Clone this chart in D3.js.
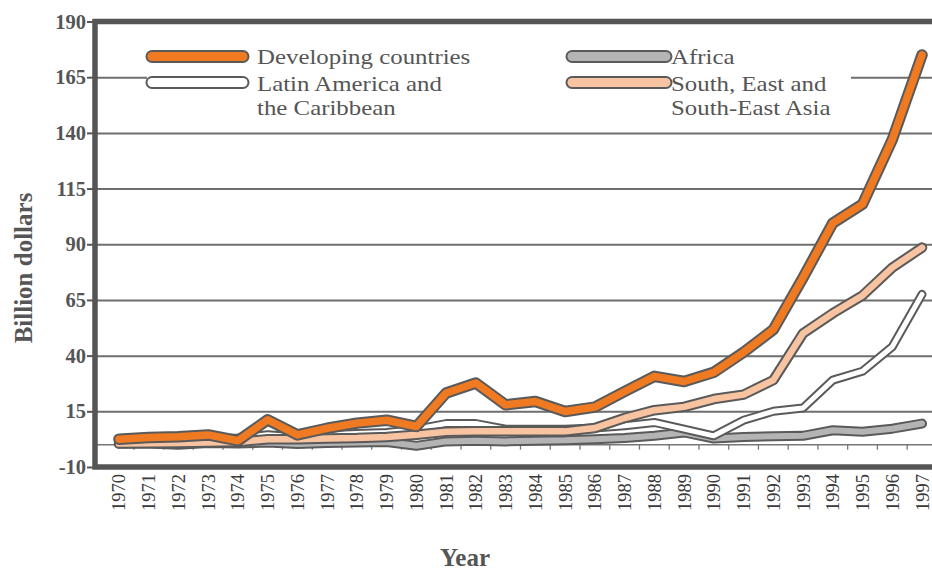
<!DOCTYPE html>
<html>
<head>
<meta charset="utf-8">
<script src="https://cdn.jsdelivr.net/npm/d3@7"></script>
<style>
  html, body { margin: 0; padding: 0; background: #fff; }
  svg { display: block; }
  text { font-family: "Liberation Serif", "Times New Roman", serif; }
</style>
</head>
<body>
<svg id="chart" width="932" height="570"></svg>
<script>
// Foreign direct investment inflows, billion dollars, 1970-1997
const years = ["1970","1971","1972","1973","1974","1975","1976","1977","1978","1979",
               "1980","1981","1982","1983","1984","1985","1986","1987","1988","1989",
               "1990","1991","1992","1993","1994","1995","1996","1997"];

const developing = [2.5, 3.2, 3.6, 4.4, 1.8, 11.2, 4.4, 7.4, 9.7, 11, 8.2, 23.2, 27.7, 17.9,
                    19.4, 14.9, 16.9, 23.9, 30.7, 28.4, 32.5, 41.5, 51.7, 75, 99.5, 108, 137, 175];
const latinAmerica = [1.5, 1.8, 1.5, 2.5, 3, 4.5, 3.5, 4.5, 5, 5.5, 7, 9.5, 9.5, 7,
                      7, 7, 7.5, 8.5, 10, 7, 4, 11, 15, 16.5, 29, 33, 44, 67.5];
const africa = [0.5, 0.5, 0, 0.8, 0.5, 1, 0.3, 0.8, 1, 1.2, -0.5, 1.5, 1.8, 1.5,
                1.8, 2, 2.5, 3, 4, 5.5, 2.8, 3.5, 3.8, 4, 6.5, 5.8, 7.2, 9.5];
const asia = [0.5, 0.7, 0.8, 1, 1.2, 2.5, 2.5, 2.8, 3, 3.5, 4.5, 5.8, 6, 6,
              6, 6, 7.5, 12, 15.5, 17, 20.5, 22.5, 29, 50, 59, 67, 79.5, 88.5];

const yTicks = [-10, 15, 40, 65, 90, 115, 140, 165, 190];

const seriesNames = ["Developing countries", "Latin America and|the Caribbean",
                     "Africa", "South, East and|South-East Asia"];

// drawing order: back to front
const series = [
  { name: seriesNames[2], values: africa,       fill: "#b4b4b4", outer: 10,  inner: 6 },
  { name: seriesNames[1], values: latinAmerica, fill: "#ffffff", outer: 9,   inner: 5 },
  { name: seriesNames[3], values: asia,         fill: "#f8c3a1", outer: 10.5, inner: 6.5 },
  { name: seriesNames[0], values: developing,   fill: "#f07a22", outer: 11.5, inner: 7.5 }
];

const serif = "'Liberation Serif', 'Times New Roman', serif";
const svg = d3.select("#chart").attr("font-family", serif);
const outline = "#5a5a5a";

const plotLeft = 95, plotRight = 940, plotTop = 21.5, plotBottom = 467;

const x = d3.scaleBand().domain(years).range([104.1, 936.9]);
const cx = d => x(d) + x.bandwidth() / 2;
const y = d3.scaleLinear().domain([-10, 190]).range([plotBottom, plotTop]);

// horizontal gridlines
svg.append("g")
  .attr("transform", `translate(${plotLeft},0)`)
  .call(d3.axisLeft(y).tickValues(yTicks).tickSize(-(plotRight - plotLeft)).tickFormat(""))
  .call(g => g.select(".domain").remove())
  .call(g => g.selectAll("line").attr("stroke", "#6e6e6e").attr("stroke-width", 2));

// zero line with category boundary ticks
const zero = svg.append("g");
zero.append("line")
  .attr("x1", plotLeft).attr("x2", plotRight)
  .attr("y1", y(0)).attr("y2", y(0))
  .attr("stroke", "#777").attr("stroke-width", 1.5);
zero.selectAll("line.tick")
  .data(years.slice(1))
  .join("line")
  .attr("class", "tick")
  .attr("x1", d => x(d)).attr("x2", d => x(d))
  .attr("y1", y(0)).attr("y2", y(0) + 5)
  .attr("stroke", "#777").attr("stroke-width", 1.3);

// series lines: dark outline underneath, coloured core on top
const line = d3.line()
  .x((d, i) => cx(years[i]))
  .y(d => y(d));

series.forEach(s => {
  svg.append("path")
    .attr("d", line(s.values))
    .attr("fill", "none")
    .attr("stroke", outline)
    .attr("stroke-width", s.outer)
    .attr("stroke-linejoin", "round")
    .attr("stroke-linecap", "round");
  svg.append("path")
    .attr("d", line(s.values))
    .attr("fill", "none")
    .attr("stroke", s.fill)
    .attr("stroke-width", s.inner)
    .attr("stroke-linejoin", "round")
    .attr("stroke-linecap", "round");
});

// legend
const legend = svg.append("g");
legend.append("rect")
  .attr("x", 147).attr("y", 31).attr("width", 704).attr("height", 96)
  .attr("fill", "#fff");

const legendItems = [
  { s: series[3], x0: 152, x1: 243, ly: 56.5, tx: 257, ty: 63.5 },
  { s: series[1], x0: 152, x1: 243, ly: 82.5, tx: 257, ty: 90.5 },
  { s: series[0], x0: 572, x1: 666, ly: 56.5, tx: 671, ty: 63.5 },
  { s: series[2], x0: 572, x1: 666, ly: 82.5, tx: 671, ty: 90.5 }
];

legendItems.forEach(it => {
  legend.append("line")
    .attr("x1", it.x0).attr("x2", it.x1).attr("y1", it.ly).attr("y2", it.ly)
    .attr("stroke", outline).attr("stroke-width", 13).attr("stroke-linecap", "round");
  legend.append("line")
    .attr("x1", it.x0).attr("x2", it.x1).attr("y1", it.ly).attr("y2", it.ly)
    .attr("stroke", it.s.fill).attr("stroke-width", 9).attr("stroke-linecap", "round");
  // slightly widened serif text, tight line spacing
  const t = legend.append("text")
    .attr("transform", `translate(${it.tx},${it.ty}) scale(1.13,1)`)
    .attr("font-family", serif)
    .attr("font-size", 22).attr("fill", "#555");
  it.s.name.split("|").forEach((part, i) => {
    t.append("tspan").attr("x", 0).attr("dy", i === 0 ? 0 : 24.5).text(part);
  });
});

// frame
svg.append("path")
  .attr("d", `M${plotRight},${plotTop}H${plotLeft}V${plotBottom}H${plotRight}`)
  .attr("fill", "none")
  .attr("stroke", "#555")
  .attr("stroke-width", 5.5);

// y axis labels and outward ticks (plain hyphen for negatives)
svg.append("g")
  .attr("transform", `translate(${plotLeft - 2},0)`)
  .call(d3.axisLeft(y).tickValues(yTicks).tickSize(6).tickPadding(1).tickFormat(d => String(d)))
  .call(g => g.select(".domain").remove())
  .call(g => g.selectAll("line").attr("stroke", "#555").attr("stroke-width", 2))
  .call(g => g.selectAll("text")
    .attr("font-family", serif)
    .attr("font-size", 20.5).attr("font-weight", "bold").attr("fill", "#555"));

// year labels
svg.append("g")
  .selectAll("text")
  .data(years)
  .join("text")
  .attr("transform", d => `translate(${cx(d)},474) rotate(-90)`)
  .attr("text-anchor", "end")
  .attr("dy", "0.35em")
  .attr("font-family", serif)
  .attr("font-size", 18.5)
  .attr("fill", "#3a3a3a")
  .text(d => d);

// axis titles
svg.append("text")
  .attr("transform", "translate(32,268) rotate(-90)")
  .attr("text-anchor", "middle")
  .attr("font-family", serif)
  .attr("font-size", 25).attr("font-weight", "bold").attr("fill", "#555")
  .text("Billion dollars");

svg.append("text")
  .attr("x", 465).attr("y", 566)
  .attr("text-anchor", "middle")
  .attr("font-family", serif)
  .attr("font-size", 25).attr("font-weight", "bold").attr("fill", "#555")
  .text("Year");
</script>
</body>
</html>
